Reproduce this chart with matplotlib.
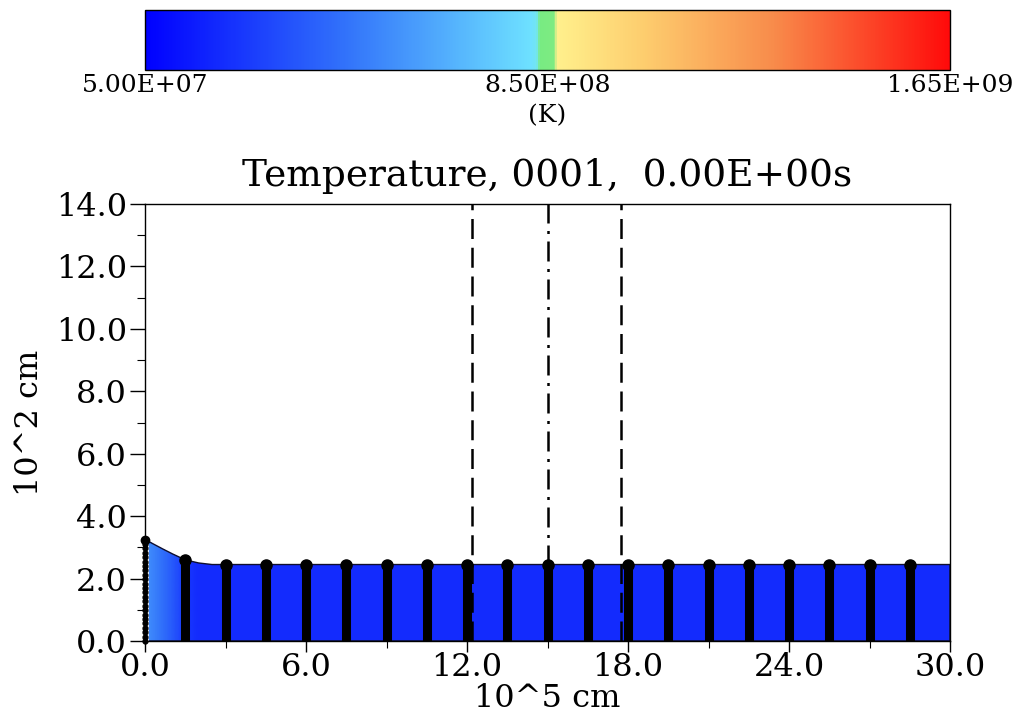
import numpy as np
import matplotlib
matplotlib.use("Agg")
import matplotlib.pyplot as plt
from matplotlib.colors import LinearSegmentedColormap, Normalize
from matplotlib.path import Path
from matplotlib.patches import PathPatch
from matplotlib.ticker import MultipleLocator, FixedLocator

plt.rcParams['font.family'] = ['DejaVu Serif']

# ---- data ----
surf_x = [0.0, 0.5, 1.0, 1.5, 2.0, 2.5, 30.0]          # 10^5 cm
surf_h = [3.25, 3.02, 2.80, 2.60, 2.50, 2.45, 2.45]    # 10^2 cm
temp_x = [0.0, 0.5, 1.0, 1.5, 2.0, 30.0]
temp_v = [5.6e8, 4.7e8, 3.7e8, 2.5e8, 2.0e8, 2.0e8]    # K
tracer_x = [1.5 * k for k in range(1, 20)]
boundary_x = [12.2, 15.0, 17.75]
boundary_style = ['dashed', 'dashdot', 'dashed']
cbar_ticks = [5.0e7, 8.5e8, 1.65e9]
cbar_labels = ['5.00E+07', '8.50E+08', '1.65E+09']
xticks = [0, 6, 12, 18, 24, 30]
yticks = [0, 2, 4, 6, 8, 10, 12, 14]
title = 'Temperature, 0001,  0.00E+00s'

# ---- colormap ----
cnodes = [
    (0.000, (0/255, 0/255, 255/255)),
    (0.250, (50/255, 115/255, 250/255)),
    (0.480, (110/255, 225/255, 255/255)),
    (0.487, (115/255, 230/255, 240/255)),
    (0.490, (120/255, 235/255, 130/255)),
    (0.508, (125/255, 235/255, 130/255)),
    (0.512, (255/255, 240/255, 140/255)),
    (0.620, (253/255, 205/255, 110/255)),
    (0.780, (248/255, 140/255, 75/255)),
    (1.000, (255/255, 10/255, 10/255)),
]
cmap = LinearSegmentedColormap.from_list('tcmap', cnodes, N=512)
norm = Normalize(vmin=5.0e7, vmax=1.65e9)

W, H, DPI = 1032, 717, 100
fig = plt.figure(figsize=(W / DPI, H / DPI), dpi=DPI)

ax = fig.add_axes([145 / W, (H - 641) / H, 805 / W, 437 / H])
cax = fig.add_axes([145 / W, (H - 70) / H, 805 / W, 60 / H])

# temperature field clipped by surface
gx = np.linspace(0, 30, 601)
gy = np.linspace(0, 3.5, 8)
T = np.interp(gx, temp_x, temp_v)
Z = np.tile(T, (len(gy), 1))
mesh = ax.pcolormesh(gx, gy, Z, cmap=cmap, norm=norm, shading='gouraud', zorder=1)
hx = np.linspace(0, 30, 601)
hh = np.interp(hx, surf_x, surf_h)
verts = [(0, 0)] + list(zip(hx, hh)) + [(30, 0), (0, 0)]
poly = PathPatch(Path(verts), facecolor='none', edgecolor='#101030', lw=1.0, zorder=2)
ax.add_patch(poly)
mesh.set_clip_path(poly)

# tracer lines
for xv in tracer_x:
    top = np.interp(xv, surf_x, surf_h)
    ax.plot([xv, xv], [0, top], color='black', lw=6.5, solid_capstyle='butt', zorder=3)
    ax.plot([xv], [top], 'o', color='black', ms=8, zorder=3)

# left edge nodes
ax.plot([0.09, 0.09], [0, 3.1], color='white', lw=2, zorder=3)
ny = np.linspace(0, surf_h[0], 24)
ax.plot(np.zeros_like(ny), ny, 'o', color='black', ms=3.5, zorder=4, clip_on=False)
ax.plot([0], [surf_h[0]], 'o', color='black', ms=6, zorder=4, clip_on=False)

# boundary markers
for xv, ls in zip(boundary_x, boundary_style):
    if ls == 'dashed':
        dashes = (8, 3.5)
    else:
        dashes = (8, 3, 1.2, 3)
    ax.plot([xv, xv], [0, 14], color='black', lw=1.8, dashes=dashes, zorder=5)

ax.set_xlim(0, 30)
ax.set_ylim(0, 14)
ax.xaxis.set_major_locator(FixedLocator(xticks))
ax.yaxis.set_major_locator(FixedLocator(yticks))
ax.xaxis.set_minor_locator(MultipleLocator(3))
ax.yaxis.set_minor_locator(MultipleLocator(1))
ax.set_xticklabels([f'{v:.1f}' for v in xticks])
ax.set_yticklabels([f'{v:.1f}' for v in yticks])
ax.tick_params(axis='y', which='major', direction='out', length=11, width=1, labelsize=23, pad=2)
ax.tick_params(axis='y', which='minor', direction='out', length=6, width=0.8)
ax.tick_params(axis='x', which='major', direction='out', length=8, width=1, labelsize=23, pad=0)
ax.tick_params(axis='x', which='minor', direction='out', length=5, width=0.8)
for s in ax.spines.values():
    s.set_linewidth(1.0)
ax.set_title(title, fontsize=27, pad=13)
ax.set_xlabel('10^5 cm', fontsize=23, labelpad=0)
ax.set_ylabel('10^2 cm', fontsize=23, labelpad=8)

# colorbar
sm = matplotlib.cm.ScalarMappable(cmap=cmap, norm=norm)
cb = fig.colorbar(sm, cax=cax, orientation='horizontal')
cb.set_ticks(cbar_ticks)
cb.set_ticklabels(cbar_labels)
cb.ax.tick_params(length=0, labelsize=18, pad=3)
cb.outline.set_linewidth(1.0)
cb.set_label('(K)', fontsize=18, labelpad=5)

fig.savefig('out.png', dpi=DPI)
